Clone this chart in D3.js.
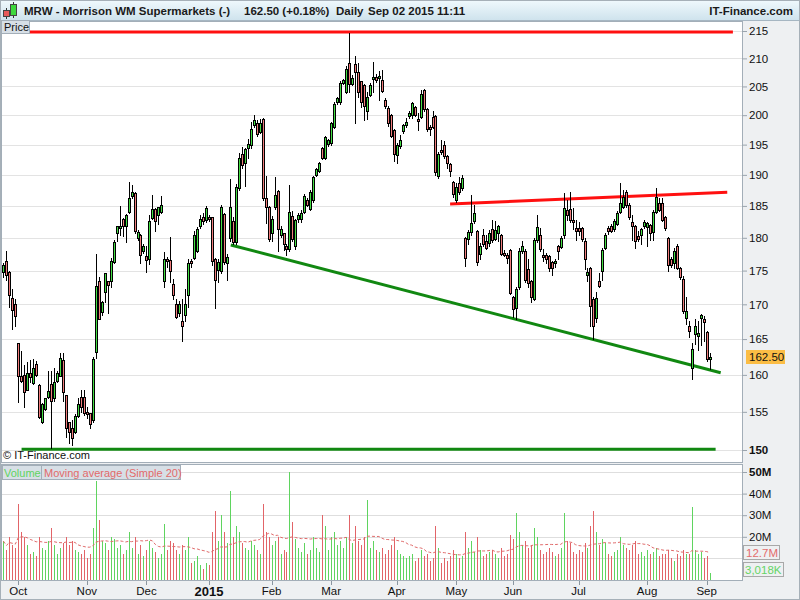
<!DOCTYPE html>
<html><head><meta charset="utf-8">
<script src="https://cdnjs.cloudflare.com/ajax/libs/d3/7.8.5/d3.min.js"></script>
<style>
body{margin:0;background:#eef0f2;}
svg{display:block;font-family:"Liberation Sans",Arial,sans-serif;}
</style></head><body>
<svg id="c" width="800" height="600"></svg>
<script>
// ---------- DATA ----------
const titleName = "MRW - Morrison WM Supermarkets (-)";
const titleQuote = "162.50 (+0.18%)";
const titlePeriod = "Daily";
const titleDate = "Sep 02 2015 11:11";
const brand = "IT-Finance.com";

const firstDay = "2014-09-24", lastDay = "2015-09-02";
const holidays = ["2014-12-25","2014-12-26","2015-01-01","2015-04-03","2015-04-06","2015-05-04","2015-05-25","2015-08-31"];

const opens = [174.8,176.4,174.8,170.9,170.1,164.4,159.9,160.0,158.0,160.2,
158.9,161.5,158.6,153.6,155.4,157.0,158.7,156.9,159.2,159.9,
162.0,157.2,153.6,152.8,152.3,154.5,157.0,157.0,155.0,154.8,
153.9,163.2,173.4,168.9,171.8,173.4,173.4,176.3,180.7,181.7,
183.0,181.8,184.0,186.6,187.0,179.9,180.5,177.9,177.2,176.7,
183.1,184.5,183.6,184.0,173.4,176.8,176.6,173.0,170.0,168.8,
167.6,168.4,171.3,176.4,176.9,178.0,181.8,183.2,182.7,183.3,
183.2,176.8,175.1,174.9,183.7,176.1,180.0,182.6,179.3,187.8,
193.4,192.0,194.4,194.9,198.3,198.6,197.1,199.4,186.3,184.9,
180.8,184.8,187.4,180.5,180.7,178.7,178.2,183.4,178.7,182.9,
182.9,184.0,185.9,184.5,185.9,190.0,190.6,194.4,192.8,195.1,
195.2,198.0,202.2,202.3,205.6,204.0,209.1,205.5,209.0,207.5,
205.9,205.2,200.7,203.5,206.4,206.6,206.5,206.1,202.7,201.3,
200.1,197.4,193.2,194.7,197.3,198.3,199.8,200.0,201.4,199.4,
199.7,204.3,201.1,198.0,199.7,199.8,189.8,194.1,195.0,193.1,
191.8,188.9,185.9,188.6,187.8,180.0,179.8,180.9,182.6,181.1,
177.5,180.4,179.5,179.2,181.3,179.8,180.8,180.4,177.7,177.3,
178.1,171.0,169.4,172.5,178.0,178.0,175.2,173.4,170.8,179.6,
180.5,177.4,177.4,177.2,176.3,176.1,178.7,178.6,180.5,184.4,
184.5,182.8,181.5,181.5,181.5,179.5,174.4,175.4,170.8,168.0,
173.4,175.0,178.5,181.5,181.8,181.3,182.2,184.1,184.9,187.3,
185.2,182.4,181.8,180.3,180.5,181.8,181.6,182.0,180.9,184.0,
185.5,185.4,183.2,180.0,176.7,176.2,178.8,175.4,173.8,168.0,
166.9,160.9,165.7,165.5,168.0,167.9,166.0,162.3];

const highs = [176.2,177.9,175.0,172.2,170.8,164.5,163.3,161.3,161.8,162.1,
162.2,161.9,158.7,156.2,156.9,160.6,160.5,161.0,160.6,163.1,
163.1,157.3,153.7,153.9,154.7,156.9,158.0,157.9,155.6,154.9,
162.5,177.5,174.1,170.5,174.7,173.5,176.9,179.6,181.9,185.0,
183.1,183.7,188.8,188.3,187.3,181.2,180.6,179.0,178.8,183.6,
186.8,184.6,184.9,186.6,177.8,177.1,180.2,173.7,170.8,170.5,
170.8,172.2,176.7,176.8,181.0,181.6,183.6,183.8,185.0,183.5,
183.3,176.9,176.8,185.2,183.8,177.5,189.3,183.2,188.5,193.6,
194.6,194.4,196.0,198.8,200.1,199.2,199.3,199.5,189.8,185.0,
183.4,189.6,187.5,181.8,180.8,179.0,188.4,184.2,182.9,183.8,
184.3,186.9,186.3,187.5,189.8,191.1,192.1,194.6,196.5,196.0,
198.9,202.3,203.2,205.9,206.4,208.6,214.7,207.0,210.4,209.2,
206.0,205.4,204.0,205.6,209.4,207.2,207.8,207.9,202.9,201.5,
200.2,197.6,195.3,196.6,198.5,199.6,200.8,202.3,201.6,200.3,
204.4,204.5,201.3,198.4,200.7,200.0,193.8,195.7,195.6,193.2,
191.9,189.0,188.7,189.7,189.9,180.1,181.2,186.7,185.2,181.2,
179.2,181.3,180.5,181.2,182.7,182.6,182.0,180.6,178.1,177.6,
178.3,171.2,172.6,178.4,179.5,178.2,176.8,173.6,180.0,183.6,
181.5,178.2,177.6,177.3,176.4,176.7,178.9,180.3,187.0,186.0,
187.3,184.7,182.8,182.5,181.7,180.0,175.4,175.5,171.0,171.8,
174.7,178.4,180.8,181.8,182.2,182.9,184.2,188.6,187.6,187.6,
185.4,183.6,182.0,181.0,181.5,182.8,182.5,182.2,184.3,187.9,
186.2,186.2,183.4,180.2,177.1,178.5,179.0,175.6,174.2,171.0,
167.6,164.5,167.8,167.6,168.6,168.3,166.2,163.0];

const lows = [174.1,173.6,169.6,166.4,166.9,156.3,159.0,155.7,157.9,159.0,
158.8,159.9,154.2,153.5,155.2,156.9,150.2,156.5,159.0,159.8,
156.5,151.7,150.9,150.6,152.2,154.3,155.0,154.6,154.2,152.8,
153.7,162.3,167.9,168.4,170.4,168.7,172.6,176.2,179.5,180.5,
180.3,179.4,183.9,186.3,180.8,179.6,176.1,177.7,174.8,176.0,
182.9,181.0,182.2,183.9,172.5,175.6,173.3,170.8,168.0,168.3,
164.7,167.6,169.6,175.6,176.7,177.8,181.5,182.1,182.5,182.6,
175.9,169.5,173.3,174.6,176.0,173.6,179.5,179.0,179.0,187.5,
191.1,188.2,192.7,194.5,197.9,196.5,196.9,186.0,182.3,179.5,
179.5,184.5,178.0,180.2,178.1,177.4,177.9,179.5,178.3,182.5,
182.5,183.8,185.0,184.3,185.7,189.8,190.4,192.6,192.6,194.8,
195.0,197.8,201.9,202.0,205.4,203.8,204.0,205.2,198.6,203.2,
201.4,199.1,199.3,203.3,204.1,205.8,202.7,204.0,201.3,198.2,
196.2,192.2,192.0,194.5,197.0,198.0,199.5,199.6,199.8,197.5,
199.5,200.8,197.3,196.6,197.8,190.0,189.5,193.5,192.8,191.2,
189.8,186.5,185.7,186.9,187.6,175.7,179.0,180.5,182.3,175.9,
176.8,178.8,178.2,178.8,179.4,179.6,179.5,177.3,177.2,176.2,
171.5,168.1,167.9,172.3,177.6,173.3,172.6,170.4,170.6,179.4,
178.0,176.5,176.2,175.0,174.4,175.5,176.8,178.4,180.0,182.8,
182.5,181.3,179.7,180.5,179.5,175.2,173.4,166.9,165.0,167.5,
172.5,173.6,178.3,180.6,180.9,181.1,182.0,183.9,184.6,184.9,
183.0,179.7,178.5,179.5,179.0,181.5,178.8,179.7,179.7,183.8,
184.2,182.6,181.2,174.9,175.6,175.4,175.2,173.8,168.8,167.2,
165.3,159.5,164.3,163.4,164.2,164.7,161.9,160.8];

const closes = [175.8,174.4,171.3,169.2,168.3,159.9,159.1,157.6,160.3,159.7,
160.9,160.0,154.3,156.0,156.8,157.8,156.5,159.0,160.2,162.3,
157.6,152.8,152.3,151.6,154.4,156.1,155.6,154.8,154.8,153.4,
162.2,172.7,167.9,170.3,174.6,172.8,176.4,179.4,181.8,181.9,
181.8,183.6,186.2,187.2,181.0,180.9,177.3,178.7,176.6,182.6,
184.5,182.6,184.8,185.2,176.7,176.4,175.0,171.3,168.2,170.0,
166.8,170.0,176.2,176.1,180.4,181.3,183.0,182.6,184.7,183.0,
176.4,173.6,176.3,184.8,176.3,177.0,184.8,179.3,188.0,192.8,
191.6,194.2,195.1,197.6,199.1,196.8,198.6,186.3,184.9,179.8,
182.9,186.8,181.3,181.3,179.0,178.2,184.0,179.8,182.7,183.5,
183.9,186.6,185.2,187.2,189.6,190.9,191.9,192.8,196.3,195.7,
198.7,202.0,202.9,205.6,206.1,208.1,205.5,206.5,207.5,204.0,
202.3,201.5,203.2,205.2,206.7,206.2,206.9,204.2,201.6,198.6,
196.5,193.4,195.0,195.7,198.3,198.9,200.4,202.1,200.1,199.0,
203.6,201.1,197.6,197.8,198.0,190.4,193.5,193.8,193.1,191.9,
190.6,186.9,188.1,187.3,189.5,176.9,180.9,182.3,183.8,176.3,
178.7,179.1,178.5,180.8,179.7,181.2,181.8,177.5,177.6,176.9,
171.7,169.3,172.3,178.0,178.7,173.6,173.2,171.0,179.6,181.6,
178.2,177.2,176.7,175.4,175.4,176.4,177.9,180.0,184.6,183.6,
182.8,182.5,181.0,181.1,179.8,176.7,174.8,169.8,166.9,170.9,
172.7,178.1,180.4,181.0,181.1,182.6,183.8,185.5,186.5,185.2,
183.3,181.8,179.5,179.8,181.3,182.4,182.3,180.8,184.1,186.4,
184.4,182.8,181.5,175.8,175.8,178.0,175.4,174.1,169.0,169.0,
166.1,163.6,166.8,165.9,168.5,167.4,162.2,162.5];

// volume in millions of shares
const volumes = [18,14,20,16,15,35,22,20,16,12,
13,11,20,15,14,18,24,16,12,15,
17,20,16,18,14,13,12,14,10,12,
24,46,28,18,17,14,20,19,15,16,
12,14,22,15,20,12,16,11,14,18,
15,13,10,12,26,14,18,17,14,12,
16,14,20,8,9,11,7,5,8,7,
22,32,18,30,22,17,41,20,25,22,
17,15,14,18,16,14,12,35,22,20,
16,18,20,12,14,13,50,27,19,15,
13,17,12,14,20,15,13,30,25,14,
20,22,16,18,15,20,30,17,25,18,
16,20,37,15,18,14,13,15,12,14,
16,20,14,12,11,10,11,12,9,10,
14,11,12,9,10,25,15,8,10,9,
11,14,12,10,11,22,15,18,13,20,
14,11,12,13,14,12,10,15,11,12,
21,19,31,22,16,18,15,16,24,20,
14,12,13,15,13,11,12,15,31,18,
17,13,12,14,13,17,15,25,32,22,
16,19,17,12,11,13,14,20,16,15,
14,16,18,12,13,11,14,12,13,15,
11,12,12,14,10,9,12,11,14,12,
12,34,14,12,13,10,11,3.018];

const maPeriod = 20;
const priceTicks = [150,155,160,165,170,175,180,185,190,195,200,205,210,215];
const volumeTicks = [10,20,30,40,50];
const volumeLabelTicks = [20,30,40,50];

// drawn trend lines: [start index, start price, end index, end price]
const trendStarts = [8.9, 149.9, 76.3, 6.1];
const trendStartPrices = [214.8, 185.3, 178.9, 150.1];
const trendEnds = [244.8, 242.9, 240.7, 239.0];
const trendEndPrices = [214.8, 187.2, 160.3, 150.1];
const trendColors = ["#ff1010", "#ff1010", "#118811", "#118811"];

// ---------- SETUP ----------
const fmt = d3.timeFormat("%Y-%m-%d");
const parse = d3.timeParse("%Y-%m-%d");
const dates = d3.timeDay.range(parse(firstDay), d3.timeDay.offset(parse(lastDay), 1))
  .filter(d => d.getDay() !== 0 && d.getDay() !== 6 && !holidays.includes(fmt(d)));
const N = dates.length;
const data = dates.map((d, i) => ({d, i, o: opens[i], h: highs[i], l: lows[i], c: closes[i], v: volumes[i]}));

const svg = d3.select("#c");
const W = 800, H = 600;
const P = {x0: 1, x1: 742, y0: 21, y1: 462};
const V = {y0: 464, y1: 580};

const x = d3.scaleLinear().domain([0, N - 1]).range([3.4, 3.4 + 2.98 * (N - 1)]);
const y = d3.scaleLog().domain([150, 215]).range([450, 31]);
const yv = d3.scaleLinear().domain([0, 50]).range([V.y1, 472]);

const GREEN = "#44dd44", RED = "#f07c7c";
const VGREEN = "#5fd45f", VRED = "#e26468";

// background
svg.append("rect").attr("width", W).attr("height", H).attr("fill", "#eef0f2");

// title bar
const defs = svg.append("defs");
const tg = defs.append("linearGradient").attr("id", "tg").attr("x1", 0).attr("y1", 0).attr("x2", 0).attr("y2", 1);
tg.append("stop").attr("offset", "0%").attr("stop-color", "#f0f9fd");
tg.append("stop").attr("offset", "100%").attr("stop-color", "#cfe3ed");
svg.append("rect").attr("x", 0).attr("y", 0).attr("width", W).attr("height", 20).attr("fill", "url(#tg)");
svg.append("line").attr("x1", 0).attr("x2", W).attr("y1", 20.5).attr("y2", 20.5).attr("stroke", "#a6b6c2");

// icon
const icon = svg.append("g").attr("shape-rendering", "crispEdges");
icon.append("line").attr("x1", 6.5).attr("x2", 6.5).attr("y1", 8).attr("y2", 19).attr("stroke", "#333");
icon.append("rect").attr("x", 3.5).attr("y", 10.5).attr("width", 6).attr("height", 6).attr("fill", "#e85a5a").attr("stroke", "#444");
icon.append("line").attr("x1", 13.5).attr("x2", 13.5).attr("y1", 2).attr("y2", 18).attr("stroke", "#333");
icon.append("rect").attr("x", 10.5).attr("y", 4.5).attr("width", 6).attr("height", 11).attr("fill", "#3ed83e").attr("stroke", "#444");

const tstyle = s => s.attr("font-size", "11.5px").attr("font-weight", "bold").attr("fill", "#1a1a1a");
tstyle(svg.append("text").attr("x", 24).attr("y", 15).text(titleName));
tstyle(svg.append("text").attr("x", 244).attr("y", 15).text(titleQuote));
tstyle(svg.append("text").attr("x", 336).attr("y", 15).text(titlePeriod));
tstyle(svg.append("text").attr("x", 368).attr("y", 15).text(titleDate));
tstyle(svg.append("text").attr("x", 793).attr("y", 15).attr("text-anchor", "end").text(brand));

// ---------- PRICE PANEL ----------
svg.append("rect").attr("x", P.x0 + 0.5).attr("y", P.y0 + 0.5).attr("width", P.x1 - P.x0).attr("height", P.y1 - P.y0)
  .attr("fill", "#fff").attr("stroke", "#a3aeb8");

const grid = svg.append("g").attr("shape-rendering", "crispEdges");
grid.selectAll("line").data(priceTicks).join("line")
  .attr("x1", P.x0 + 1).attr("x2", P.x1).attr("y1", d => Math.round(y(d)) + 0.5).attr("y2", d => Math.round(y(d)) + 0.5)
  .attr("stroke", "#e3e3e3");

// price axis (right)
const pax = svg.append("g").attr("transform", `translate(${P.x1},0)`)
  .call(d3.axisRight(y).tickValues(priceTicks).tickFormat(d3.format("d")).tickSize(5).tickPadding(2));
pax.select(".domain").remove();
pax.selectAll(".tick line").attr("stroke", "#9aa4ad");
pax.selectAll(".tick text").attr("font-size", "11.5px").attr("font-family", "Liberation Sans, Arial, sans-serif")
  .attr("fill", "#111").attr("font-weight", d => d === 150 ? "bold" : "normal");

// trend lines
const tl = d3.range(trendStarts.length);
svg.append("g").selectAll("line").data(tl).join("line")
  .attr("x1", k => x(trendStarts[k])).attr("y1", k => y(trendStartPrices[k]))
  .attr("x2", k => x(trendEnds[k])).attr("y2", k => y(trendEndPrices[k]))
  .attr("stroke", k => trendColors[k]).attr("stroke-width", 3);

// candles
const cg = svg.append("g").attr("shape-rendering", "crispEdges");
const candles = cg.selectAll("g").data(data).join("g");
candles.append("line")
  .attr("x1", d => Math.round(x(d.i)) + 0.5).attr("x2", d => Math.round(x(d.i)) + 0.5)
  .attr("y1", d => Math.round(y(d.h))).attr("y2", d => Math.round(y(d.l)) + 1)
  .attr("stroke", "#000");
candles.each(function(d) {
  const g = d3.select(this);
  const px = Math.round(x(d.i));
  const top = Math.round(y(Math.max(d.o, d.c)));
  let bot = Math.round(y(Math.min(d.o, d.c)));
  if (bot - top < 2) bot = top + 2;
  g.append("rect").attr("x", px - 1).attr("y", top).attr("width", 3).attr("height", bot - top + 1).attr("fill", "#000");
  if (bot - top >= 2) {
    g.append("rect").attr("x", px).attr("y", top + 1).attr("width", 1).attr("height", bot - top - 1)
      .attr("fill", d.c >= d.o ? GREEN : RED);
  }
});

// "Price" tag
svg.append("rect").attr("x", 1.5).attr("y", 20.5).attr("width", 28).attr("height", 13).attr("fill", "#d7dfe6").attr("stroke", "#a3aeb8");
svg.append("text").attr("x", 4).attr("y", 31).attr("font-size", "11px").attr("fill", "#111").text("Price");

// copyright
svg.append("text").attr("x", 3).attr("y", 459).attr("font-size", "11px").attr("fill", "#111").text("\u00a9 " + brand);

// last price tag
const last = data[N - 1];
const ly = Math.round(y(last.c));
svg.append("rect").attr("x", 746).attr("y", ly - 7).attr("width", 39).attr("height", 14).attr("fill", "#fbbd45");
svg.append("text").attr("x", 749).attr("y", ly + 4).attr("font-size", "11.5px").attr("fill", "#111").text(d3.format(".2f")(last.c));

// ---------- VOLUME PANEL ----------
svg.append("rect").attr("x", P.x0 + 0.5).attr("y", V.y0 + 0.5).attr("width", P.x1 - P.x0).attr("height", V.y1 - V.y0)
  .attr("fill", "#fff").attr("stroke", "#a3aeb8");
svg.append("g").attr("shape-rendering", "crispEdges").selectAll("line").data(volumeTicks).join("line")
  .attr("x1", P.x0 + 1).attr("x2", P.x1).attr("y1", d => Math.round(yv(d)) + 0.5).attr("y2", d => Math.round(yv(d)) + 0.5)
  .attr("stroke", "#dedede");

svg.append("g").attr("shape-rendering", "crispEdges").selectAll("line").data(data).join("line")
  .attr("x1", d => Math.round(x(d.i)) + 0.5).attr("x2", d => Math.round(x(d.i)) + 0.5)
  .attr("y1", V.y1).attr("y2", d => yv(d.v))
  .attr("stroke", d => d.c >= d.o ? VGREEN : VRED);

// moving average of volume
const ma = data.map((d, i) => {
  const w = volumes.slice(Math.max(0, i - maPeriod + 1), i + 1);
  return {i, v: d3.mean(w)};
});
svg.append("path").datum(ma)
  .attr("d", d3.line().x(d => x(d.i)).y(d => yv(d.v)))
  .attr("fill", "none").attr("stroke", "#e06a6a").attr("stroke-width", 1).attr("stroke-dasharray", "3,2");

const vax = svg.append("g").attr("transform", `translate(${P.x1},0)`)
  .call(d3.axisRight(yv).tickValues(volumeLabelTicks).tickFormat(d => d + "M").tickSize(5).tickPadding(2));
vax.select(".domain").remove();
vax.selectAll(".tick line").attr("stroke", "#9aa4ad");
vax.selectAll(".tick text").attr("font-size", "11.5px").attr("font-family", "Liberation Sans, Arial, sans-serif")
  .attr("fill", "#111").attr("font-weight", d => d === 50 ? "bold" : "normal");

// value tags
const maLast = ma[N - 1].v;
const myy = Math.round(yv(maLast));
svg.append("rect").attr("x", 743.5).attr("y", myy - 7.5).attr("width", 36).attr("height", 14).attr("fill", "#eef0f2").attr("stroke", "#a8a8a8");
svg.append("text").attr("x", 746).attr("y", myy + 4).attr("font-size", "11.5px").attr("fill", "#e46c6c").text(d3.format(".1f")(maLast) + "M");
const vy = 570;
svg.append("rect").attr("x", 743.5).attr("y", vy - 7.5).attr("width", 40).attr("height", 14).attr("fill", "#eef0f2").attr("stroke", "#a8a8a8");
svg.append("text").attr("x", 745).attr("y", vy + 4).attr("font-size", "11.5px").attr("fill", "#66d466").text(d3.format(",")(Math.round(last.v * 1000)) + "K");

// legend tags
svg.append("rect").attr("x", 2.5).attr("y", 465.5).attr("width", 39).attr("height", 14).attr("fill", "#d7dfe6").attr("stroke", "#a3aeb8");
svg.append("text").attr("x", 4).attr("y", 477).attr("font-size", "11px").attr("fill", "#5fd45f").text("Volume");
svg.append("rect").attr("x", 41.5).attr("y", 465.5).attr("width", 139).attr("height", 14).attr("fill", "#d7dfe6").attr("stroke", "#a3aeb8");
svg.append("text").attr("x", 44).attr("y", 477).attr("font-size", "11px").attr("fill", "#e26a6a").text("Moving average (Simple " + maPeriod + ")");

// ---------- X AXIS ----------
const monthStarts = data.filter((d, i) => i > 0 && d.d.getMonth() !== data[i - 1].d.getMonth());
const xg = svg.append("g").attr("shape-rendering", "crispEdges");
xg.selectAll("line").data(monthStarts).join("line")
  .attr("x1", d => Math.round(x(d.i)) + 0.5).attr("x2", d => Math.round(x(d.i)) + 0.5)
  .attr("y1", V.y1 + 1).attr("y2", V.y1 + 5).attr("stroke", "#8a96a0");
svg.append("g").selectAll("text").data(monthStarts).join("text")
  .attr("x", d => x(d.i)).attr("y", d => d.d.getMonth() === 0 ? 596 : 595)
  .attr("text-anchor", "middle")
  .attr("font-size", d => d.d.getMonth() === 0 ? "13px" : "11.5px")
  .attr("font-weight", d => d.d.getMonth() === 0 ? "bold" : "normal")
  .attr("fill", "#111")
  .text(d => d.d.getMonth() === 0 ? d3.timeFormat("%Y")(d.d) : d3.timeFormat("%b")(d.d));

// outer frame
svg.append("rect").attr("x", 0.5).attr("y", 0.5).attr("width", W - 1).attr("height", H - 1).attr("fill", "none").attr("stroke", "#a6b0b8");
</script>
</body></html>
